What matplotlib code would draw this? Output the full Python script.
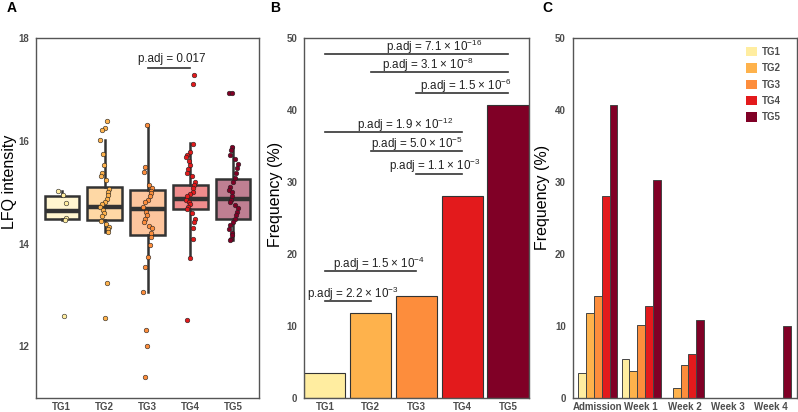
import matplotlib
matplotlib.use("Agg")
import matplotlib.pyplot as plt
from matplotlib.patches import Patch

plt.rcParams["font.family"] = ["Liberation Sans", "DejaVu Sans"]
plt.rcParams["mathtext.fontset"] = "custom"
plt.rcParams["mathtext.rm"] = "Liberation Sans"
plt.rcParams["mathtext.default"] = "regular"

GROUPS = ["TG1", "TG2", "TG3", "TG4", "TG5"]
COLORS = ["#FFEDA0", "#FEB24C", "#FD8D3C", "#E31A1C", "#800026"]

# Panel A: LFQ intensity per group
LFQ_TG1 = [15.03, 14.95, 14.80, 14.51, 14.46, 12.59]
LFQ_TG2 = [16.39, 16.25, 16.21, 16.02, 15.75, 15.54, 15.38, 15.31, 15.24, 15.06,
           15.00, 14.95, 14.88, 14.82, 14.77, 14.72, 14.66, 14.59, 14.54, 14.45,
           14.38, 14.32, 14.28, 14.23, 13.23, 12.55]
LFQ_TG3 = [16.31, 15.49, 15.40, 15.14, 15.09, 15.03, 14.98, 14.92, 14.86, 14.82,
           14.72, 14.62, 14.56, 14.49, 14.43, 14.34, 14.30, 14.20, 14.14, 13.97,
           13.75, 13.55, 13.06, 12.32, 12.00, 11.40]
LFQ_TG4 = [17.29, 17.11, 15.95, 15.79, 15.73, 15.69, 15.62, 15.53, 15.45, 15.37,
           15.31, 15.21, 15.14, 15.08, 15.01, 14.97, 14.92, 14.86, 14.82, 14.77,
           14.72, 14.67, 14.59, 14.49, 14.43, 14.30, 14.10, 13.73, 12.51]
LFQ_TG5 = [16.93, 16.93, 15.88, 15.82, 15.73, 15.64, 15.56, 15.47, 15.37, 15.27,
           15.21, 15.11, 15.05, 15.00, 14.93, 14.86, 14.82, 14.75, 14.69, 14.62,
           14.56, 14.49, 14.43, 14.36, 14.28, 14.21, 14.16, 14.10, 14.07]
LFQ = [LFQ_TG1, LFQ_TG2, LFQ_TG3, LFQ_TG4, LFQ_TG5]

# Box statistics as drawn in the reference
BOX_Q1 = [14.48, 14.47, 14.17, 14.67, 14.48]
BOX_MED = [14.64, 14.72, 14.67, 14.88, 14.88]
BOX_Q3 = [14.92, 15.10, 15.05, 15.14, 15.26]
BOX_LO = [14.46, 14.23, 13.06, 13.73, 14.07]
BOX_HI = [15.03, 16.02, 16.31, 15.97, 15.88]

# Panel B: overall frequency (%)
FREQ = [3.5, 11.8, 14.2, 28.1, 40.8]
B_PAIRS = [(0, 4), (1, 4), (2, 4), (0, 3), (1, 3), (2, 3), (0, 2), (0, 1)]
B_LINE_Y = [47.8, 45.3, 42.4, 37.0, 34.3, 31.2, 17.7, 13.5]
B_LABELS = ["7.1 × 10$^{-16}$", "3.1 × 10$^{-8}$", "1.5 × 10$^{-6}$",
            "1.9 × 10$^{-12}$", "5.0 × 10$^{-5}$", "1.1 × 10$^{-3}$",
            "1.5 × 10$^{-4}$", "2.2 × 10$^{-3}$"]
B_TEXT_X = [2.38, 2.25, 3.07, 1.75, 2.02, 2.40, 1.19, 0.62]

# Panel C: frequency (%) over time, per group
TIMEPOINTS = ["Admission", "Week 1", "Week 2", "Week 3", "Week 4"]
FREQ_TIME = {
    "TG1": [3.5, 5.4, 0.0, 0.0, 0.0],
    "TG2": [11.8, 3.8, 1.4, 0.0, 0.0],
    "TG3": [14.2, 10.2, 4.6, 0.0, 0.0],
    "TG4": [28.1, 12.8, 6.2, 0.0, 0.0],
    "TG5": [40.8, 30.3, 10.9, 0.0, 10.0],
}

TICK_COLOR = "#4D4D4D"
LINE_DARK = "#333333"
JITTER = [-0.08, 0.05, -0.02, 0.09, -0.10, 0.03, 0.00, -0.05, 0.07, -0.03, 0.10, -0.07]


def style_axes(ax, label, label_x, label_y):
    for sp in ax.spines.values():
        sp.set_color("#555555")
        sp.set_linewidth(1.0)
    ax.tick_params(length=0, labelsize=7, labelcolor=TICK_COLOR)
    ax.tick_params(axis="x", pad=3)
    ax.tick_params(axis="y", pad=5)
    for lab in ax.get_xticklabels() + ax.get_yticklabels():
        lab.set_fontweight("bold")
    ax.set_ylabel(label, fontsize=11.5)
    ax.yaxis.set_label_coords(label_x, label_y)


fig = plt.figure(figsize=(7.98, 4.12), dpi=100)
axA = fig.add_axes([0.0451, 0.0333, 0.2795, 0.8738])
axB = fig.add_axes([0.3813, 0.0333, 0.2812, 0.8738])
axC = fig.add_axes([0.7177, 0.0333, 0.2811, 0.8738])

# ---- Panel A ----
stats = []
for i in range(len(GROUPS)):
    stats.append({"q1": BOX_Q1[i], "med": BOX_MED[i], "q3": BOX_Q3[i],
                  "whislo": BOX_LO[i], "whishi": BOX_HI[i], "fliers": []})
bp = axA.bxp(stats, positions=range(len(GROUPS)), widths=0.8, patch_artist=True,
             showfliers=False, showcaps=False,
             boxprops=dict(edgecolor=LINE_DARK, linewidth=1.8),
             medianprops=dict(color=LINE_DARK, linewidth=3.2),
             whiskerprops=dict(color=LINE_DARK, linewidth=1.8))
for patch, c in zip(bp["boxes"], COLORS):
    patch.set_facecolor(matplotlib.colors.to_rgba(c, 0.5))
    patch.set_zorder(2)
for i, vals in enumerate(LFQ):
    xs = [i + JITTER[(k * 5 + i) % len(JITTER)] for k in range(len(vals))]
    axA.scatter(xs, vals, s=11, color=COLORS[i], edgecolor="#222222",
                linewidth=0.4, zorder=3)
axA.plot([2, 3], [17.43, 17.43], color=LINE_DARK, lw=1.2)
axA.text(2.56, 17.53, "p.adj = 0.017", ha="center", va="baseline",
         fontsize=8.4, color="#222222")
axA.set_xlim(-0.6, 4.6)
axA.set_ylim(10.99, 18.0)
axA.set_yticks([12, 14, 16, 18])
axA.set_xticks(range(len(GROUPS)))
axA.set_xticklabels(GROUPS)
style_axes(axA, "LFQ intensity", -0.085, 0.60)

# ---- Panel B ----
axB.bar(range(len(GROUPS)), FREQ, width=0.9, color=COLORS,
        edgecolor=LINE_DARK, linewidth=0.8)
for (a, b), y, lab, tx in zip(B_PAIRS, B_LINE_Y, B_LABELS, B_TEXT_X):
    axB.plot([a, b], [y, y], color=LINE_DARK, lw=1.2)
    axB.text(tx, y + 0.45, "p.adj = " + lab, ha="center", va="baseline",
             fontsize=8.4, color="#222222")
axB.set_xlim(-0.45, 4.45)
axB.set_ylim(0, 50)
axB.set_yticks([0, 10, 20, 30, 40, 50])
axB.set_xticks(range(len(GROUPS)))
axB.set_xticklabels(GROUPS)
style_axes(axB, "Frequency (%)", -0.095, 0.567)

# ---- Panel C ----
bw = 0.18
for j, g in enumerate(GROUPS):
    xs = [t - 0.36 + j * bw for t in range(len(TIMEPOINTS))]
    axC.bar(xs, FREQ_TIME[g], width=bw, color=COLORS[j],
            edgecolor="#444444", linewidth=0.7, label=g)
axC.set_xlim(-0.58, 4.6)
axC.set_ylim(0, 50)
axC.set_yticks([0, 10, 20, 30, 40, 50])
axC.set_xticks(range(len(TIMEPOINTS)))
axC.set_xticklabels(TIMEPOINTS)
style_axes(axC, "Frequency (%)", -0.101, 0.559)
handles = [Patch(facecolor=c, edgecolor="none", label=g) for g, c in zip(GROUPS, COLORS)]
axC.legend(handles=handles, loc="upper right", bbox_to_anchor=(0.965, 1.0),
           frameon=False, handlelength=1.1, handleheight=1.1, handletextpad=0.5,
           labelspacing=0.65, prop={"size": 7, "weight": "bold"},
           labelcolor=TICK_COLOR)

for x, letter in [(0.008, "A"), (0.338, "B"), (0.680, "C")]:
    fig.text(x, 0.997, letter, fontsize=10, fontweight="bold", va="top", ha="left")

fig.savefig("out.png", dpi=100, facecolor="white")
